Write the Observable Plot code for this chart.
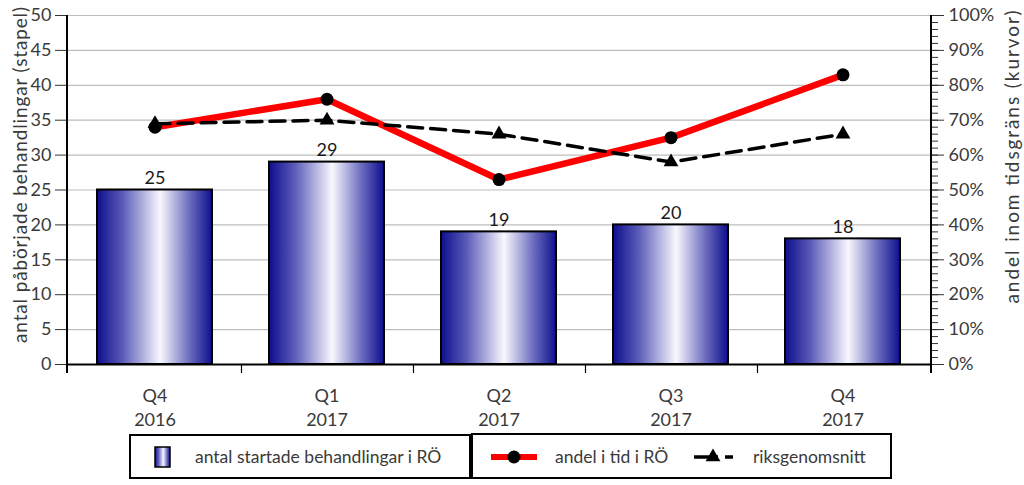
<!DOCTYPE html>
<html><head><meta charset="utf-8">
<script src="https://cdn.jsdelivr.net/npm/d3@7"></script>
<script src="https://cdn.jsdelivr.net/npm/@observablehq/plot@0.6"></script>
<style>
body{margin:0;background:#fff;}
#wrap{position:relative;width:1024px;height:485px;overflow:hidden;}
#wrap svg{display:block;}
</style></head><body><div id="wrap"></div>
<script>
// ---- data ----
const quarters = ["Q4\n2016", "Q1\n2017", "Q2\n2017", "Q3\n2017", "Q4\n2017"];
const started = [25, 29, 19, 20, 18];            // antal startade behandlingar i RÖ (stapel)
const shareOnTime = [68, 76, 53, 65, 83];        // andel i tid i RÖ (%)
const nationalAvg = [69, 70, 66, 58, 66];        // riksgenomsnitt (%)
const leftTicks = [0, 5, 10, 15, 20, 25, 30, 35, 40, 45, 50];
const rightTicks = [0, 10, 20, 30, 40, 50, 60, 70, 80, 90, 100];
const rightMinorTicks = d3.range(0, 101, 2);
const leftLabel = "antal påbörjade behandlingar (stapel)";
const rightLabel = "andel inom tidsgräns (kurvor)";
const legendLabels = ["antal startade behandlingar i RÖ", "andel i tid i RÖ", "riksgenomsnitt"];

const rows = quarters.map((q, i) => ({q, n: started[i], share: shareOnTime[i], avg: nationalAvg[i]}));
// right axis (0–100 %) mapped onto the left scale (0–50)
const pct = v => v / 2;

const FONT = "Lato, 'Open Sans', sans-serif";
const TXT = "#3a3a3a";

function boundaryMark(index, scales, values, dims) {
  const ns = "http://www.w3.org/2000/svg";
  const g = document.createElementNS(ns, "g");
  const sx = scales.x;
  const {width, height, marginLeft, marginRight, marginTop, marginBottom} = dims;
  const x0 = marginLeft, x1 = width - marginRight, yb = height - marginBottom;
  const step = sx.step ? sx.step() : (x1 - x0) / quarters.length;
  const bw = sx.bandwidth ? sx.bandwidth() : step * 0.67;
  const line = (xa, ya, xb, yb2, w) => {
    const l = document.createElementNS(ns, "line");
    l.setAttribute("x1", xa); l.setAttribute("x2", xb);
    l.setAttribute("y1", ya); l.setAttribute("y2", yb2);
    l.setAttribute("stroke", "#000"); l.setAttribute("stroke-width", w);
    g.appendChild(l);
  };
  quarters.slice(1).forEach(q => {
    const bx = Math.round(sx(q) - (step - bw) / 2) + 0.5;
    line(bx, yb, bx, yb + 9, 1.2);
  });
  line(x0, marginTop, x0, yb + 9, 2);
  line(x1, marginTop, x1, yb + 9, 2);
  return g;
}

const chart = Plot.plot({
  width: 1024, height: 430,
  marginLeft: 67, marginRight: 93, marginTop: 15, marginBottom: 66,
  style: {fontFamily: FONT, fontSize: "17px", color: TXT, background: "transparent"},
  x: {domain: quarters, paddingInner: 0.33, paddingOuter: 0.165, axis: null},
  y: {domain: [0, 50], axis: null},
  marks: [
    Plot.gridY(leftTicks.slice(1), {stroke: "#bdbdbd", strokeOpacity: 1, strokeWidth: 1.2}),
    Plot.barY(rows, {x: "q", y: "n", fill: "url(#barGrad)", stroke: "#000", strokeWidth: 2}),
    Plot.text(rows, {x: "q", y: "n", text: d => String(d.n), dy: -6, lineAnchor: "bottom", fontSize: 18, fill: "#1a1a1a"}),
    Plot.line(rows, {x: "q", y: d => pct(d.share), stroke: "#ff0000", strokeWidth: 6.5}),
    Plot.line(rows, {x: "q", y: d => pct(d.avg), stroke: "#000", strokeWidth: 3.5, strokeDasharray: "15,8"}),
    Plot.dot(rows, {x: "q", y: d => pct(d.avg), symbol: "triangle", r: 5.5, fill: "#000", stroke: "none"}),
    Plot.dot(rows, {x: "q", y: d => pct(d.share), r: 6.5, fill: "#000", stroke: "none"}),
    Plot.ruleY([0], {stroke: "#000", strokeWidth: 2}),
    Plot.axisY({anchor: "left", ticks: leftTicks, tickSize: 12, tickPadding: 4, label: null, stroke: "#333", fill: TXT, fontSize: 18}),
    Plot.axisY({anchor: "right", ticks: rightMinorTicks.map(pct), tickSize: 6, tickFormat: () => "", label: null, stroke: "#333"}),
    Plot.axisY({anchor: "right", ticks: rightTicks.map(pct), tickSize: 12, tickPadding: 5, tickFormat: d => (d * 2) + "%", label: null, stroke: "#333", fill: TXT, fontSize: 18}),
    Plot.axisX({tickSize: 0, tickPadding: 21, lineHeight: 1.3, label: null, fill: TXT, fontSize: 18}),
    boundaryMark,
    Plot.text([leftLabel], {frameAnchor: "left", text: d => d, rotate: -90, textAnchor: "middle", lineAnchor: "middle", dx: -47, dy: -15, fontSize: 19, fill: TXT}),
    Plot.text([rightLabel], {frameAnchor: "right", text: d => d, rotate: -90, textAnchor: "middle", lineAnchor: "middle", dx: 81, dy: -33, fontSize: 19, fill: TXT})
  ]
});

// stretch the two axis titles to the reference's length
chart.querySelectorAll("text").forEach(t => {
  if (t.textContent === leftLabel) { t.setAttribute("textLength", 336); t.setAttribute("lengthAdjust", "spacing"); }
  if (t.textContent === rightLabel) { t.setAttribute("textLength", 293); t.setAttribute("lengthAdjust", "spacing"); }
});

// gradient definition
const ns = "http://www.w3.org/2000/svg";
const defs = document.createElementNS(ns, "defs");
const grad = document.createElementNS(ns, "linearGradient");
grad.setAttribute("id", "barGrad");
grad.setAttribute("x1", "0"); grad.setAttribute("x2", "1"); grad.setAttribute("y1", "0"); grad.setAttribute("y2", "0");
[[0, "#0e0e8e"], [0.22, "#5a5ab8"], [0.55, "#f8f8ff"], [0.8, "#6e6ec0"], [1, "#0e0e8e"]].forEach(([o, c]) => {
  const s = document.createElementNS(ns, "stop");
  s.setAttribute("offset", o); s.setAttribute("stop-color", c);
  grad.appendChild(s);
});
defs.appendChild(grad);
chart.insertBefore(defs, chart.firstChild);
document.getElementById("wrap").appendChild(chart);

// legend (below the chart)
const lg = d3.select("#wrap").append("svg").attr("width", 1024).attr("height", 55)
  .style("font-family", FONT).style("font-size", "17.5px");
const oy = -430;
lg.append("rect").attr("x", 130).attr("y", 435 + oy).attr("width", 340).attr("height", 43).attr("fill", "none").attr("stroke", "#000").attr("stroke-width", 2);
lg.append("rect").attr("x", 472).attr("y", 434 + oy).attr("width", 419).attr("height", 44).attr("fill", "none").attr("stroke", "#000").attr("stroke-width", 2);
lg.append("rect").attr("x", 155).attr("y", 447 + oy).attr("width", 15).attr("height", 20).attr("fill", "url(#barGrad)").attr("stroke", "#000").attr("stroke-width", 1.5);
lg.append("text").attr("x", 195).attr("y", 457 + oy).attr("dy", "0.35em").attr("fill", TXT).text(legendLabels[0]);
lg.append("line").attr("x1", 491).attr("x2", 537).attr("y1", 457 + oy).attr("y2", 457 + oy).attr("stroke", "#ff0000").attr("stroke-width", 6);
lg.append("circle").attr("cx", 514).attr("cy", 457 + oy).attr("r", 6.5).attr("fill", "#000");
lg.append("text").attr("x", 555).attr("y", 457 + oy).attr("dy", "0.35em").attr("fill", TXT).text(legendLabels[1]);
lg.append("line").attr("x1", 694).attr("x2", 733).attr("y1", 457 + oy).attr("y2", 457 + oy).attr("stroke", "#000").attr("stroke-width", 3.5).attr("stroke-dasharray", "24,7,8");
lg.append("path").attr("d", d3.symbol(d3.symbolTriangle, 95)()).attr("transform", `translate(713,${457 + oy})`).attr("fill", "#000");
lg.append("text").attr("x", 753).attr("y", 457 + oy).attr("dy", "0.35em").attr("fill", TXT).text(legendLabels[2]);
</script></body></html>
